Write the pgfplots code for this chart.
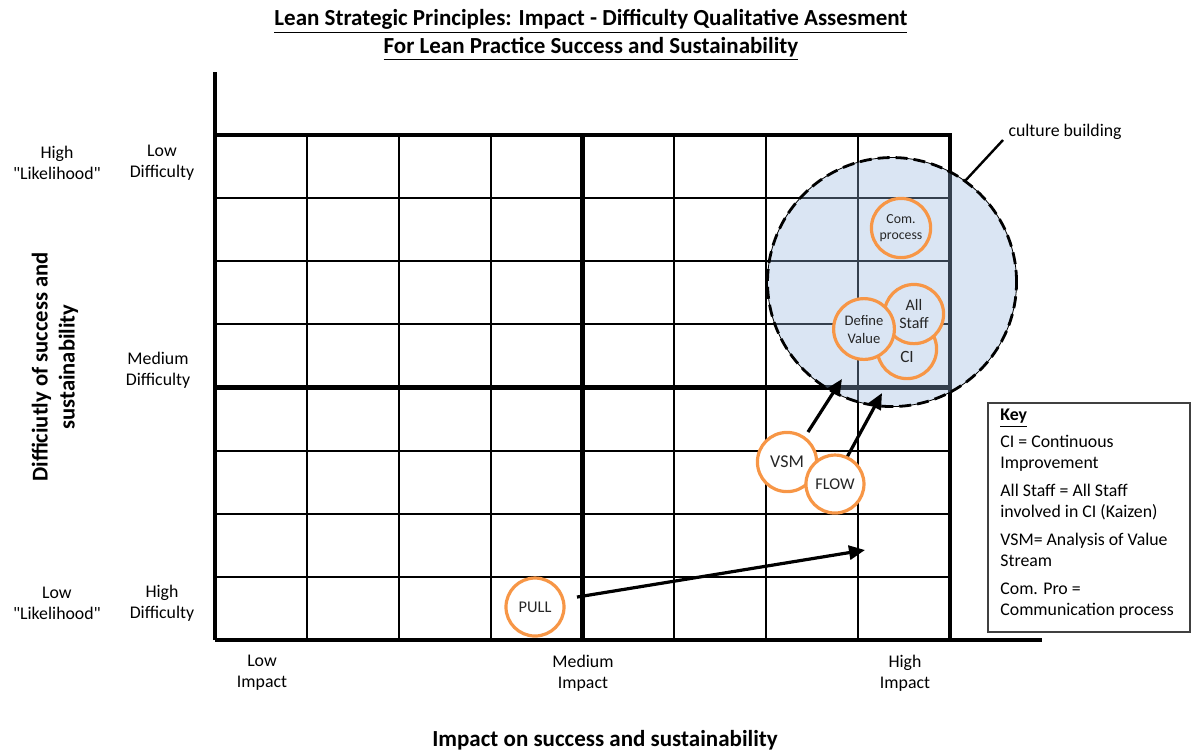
\documentclass[border=0pt]{standalone}
\usepackage{fontspec}
\setmainfont{Carlito}[Ligatures=TeXOff]
\usepackage{pgfplots}
\pgfplotsset{compat=1.18}
\usetikzlibrary{arrows.meta}
\definecolor{orng}{HTML}{F79646}
\definecolor{cult}{RGB}{218,229,243}
\definecolor{cultT}{RGB}{149,181,221}
\newcommand\lbl{\fontsize{8.9}{10.5}\selectfont}
\begin{document}
\begin{tikzpicture}
\begin{axis}[
  x=45.9375pt, y=31.5625pt,
  xmin=0, xmax=9, ymin=0, ymax=9,
  axis x line=bottom, axis y line=left,
  axis line style={line width=2.2pt,-},
  ticks=none,
  clip=false,
  clip marker paths=true,
]
% thin grid lines
\addplot[line width=1pt, unbounded coords=jump] coordinates {
 (0,1) (8,1) (nan,nan) (0,2) (8,2) (nan,nan) (0,3) (8,3) (nan,nan)
 (0,5) (8,5) (nan,nan) (0,6) (8,6) (nan,nan) (0,7) (8,7) (nan,nan)
 (1,0) (1,8) (nan,nan) (2,0) (2,8) (nan,nan) (3,0) (3,8) (nan,nan)
 (5,0) (5,8) (nan,nan) (6,0) (6,8) (nan,nan) (7,0) (7,8)};
% thick grid lines
\addplot[line width=2.2pt, unbounded coords=jump] coordinates {
 (0,4) (8,4) (nan,nan) (-0.02,8) (8,8) (nan,nan) (4,0) (4,8) (nan,nan) (8,0) (8,8.03)};
% culture building area (translucent fill)
\addplot[only marks, mark=*, mark size=62.25pt, mark options={fill=cultT, fill opacity=0.35, draw=none}] coordinates {(7.369,5.671)};
% culture building outline
\addplot[only marks, mark=o, mark size=62.25pt, mark options={draw=black, line width=1.4pt, dash pattern=on 6pt off 3pt}] coordinates {(7.369,5.671)};
% pointer to culture label
\addplot[line width=1.2pt] coordinates {(8.163,7.271) (8.577,7.921)};
% arrows
\addplot[line width=1.6pt, -{Triangle[length=8pt,width=7pt]}] coordinates {(6.454,3.295) (6.824,4.135)};
\addplot[line width=1.6pt, -{Triangle[length=8pt,width=7pt]}] coordinates {(6.803,2.693) (7.260,3.913)};
\addplot[line width=1.6pt, -{Triangle[length=8pt,width=7pt]}] coordinates {(3.940,0.681) (7.075,1.426)};
% practice circles
\addplot[only marks, mark=*, mark size=14.8pt, mark options={fill=cult, draw=orng, line width=1.6pt}] coordinates {(7.467,6.527)};
\addplot[only marks, mark=*, mark size=14.8pt, mark options={fill=cult, draw=orng, line width=1.6pt}] coordinates {(7.532,4.610)};
\addplot[only marks, mark=*, mark size=14.8pt, mark options={fill=cult, draw=orng, line width=1.6pt}] coordinates {(7.608,5.164)};
\addplot[only marks, mark=*, mark size=15.2pt, mark options={fill=cult, draw=orng, line width=1.6pt}] coordinates {(7.064,4.927)};
\addplot[only marks, mark=*, mark size=14.8pt, mark options={fill=white, draw=orng, line width=1.6pt}] coordinates {(6.226,2.820)};
\addplot[only marks, mark=*, mark size=14.5pt, mark options={fill=white, draw=orng, line width=1.6pt}] coordinates {(6.748,2.471)};
\addplot[only marks, mark=*, mark size=14.5pt, mark options={fill=white, draw=orng, line width=1.6pt}] coordinates {(3.483,0.523)};
% circle text anchors
\coordinate (tCom) at (axis cs:7.467,6.527);
\coordinate (tCI) at (axis cs:7.532,4.48);
\coordinate (tAll) at (axis cs:7.608,5.164);
\coordinate (tDef) at (axis cs:7.064,4.927);
\coordinate (tVSM) at (axis cs:6.226,2.820);
\coordinate (tFlow) at (axis cs:6.748,2.471);
\coordinate (tPull) at (axis cs:3.483,0.523);
% culture label
\node[anchor=west, font=\lbl] at (axis cs:8.56,8.05) {culture building};
% key
\draw[line width=0.6pt, black!75] (axis cs:8.414,3.754) rectangle (axis cs:10.612,0.127);
\node[anchor=north west, align=left, font=\lbl, inner sep=0pt] at (axis cs:8.544,3.66) {%
 \textbf{\underline{Key}}\\[2.6pt]
 CI = Continuous\\
 Improvement\\[3.6pt]
 All Staff = All Staff\\
 involved in CI (Kaizen)\\[3.6pt]
 VSM= Analysis of Value\\
 Stream\\[3.6pt]
 Com. Pro =\\
 Communication process};
% side labels
\node[align=center, font=\lbl] at (axis cs:-1.720,7.557) {High\\"Likelihood"};
\node[align=center, font=\lbl] at (axis cs:-0.577,7.557) {Low\\Difficulty};
\node[align=center, font=\lbl] at (axis cs:-0.620,4.277) {Medium\\Difficulty};
\node[align=center, font=\lbl] at (axis cs:-1.720,0.586) {Low\\"Likelihood"};
\node[align=center, font=\lbl] at (axis cs:-0.577,0.586) {High\\Difficulty};
\node[align=center, font=\lbl] at (axis cs:0.512,-0.523) {Low\\Impact};
\node[align=center, font=\lbl] at (axis cs:4.005,-0.523) {Medium\\Impact};
\node[align=center, font=\lbl] at (axis cs:7.510,-0.523) {High\\Impact};
% axis titles
\node[font=\bfseries\fontsize{11.5}{13}\selectfont] at (axis cs:4.245,-1.584) {Impact on success and sustainability};
\node[rotate=90, align=center, font=\bfseries\fontsize{11.3}{13.5}\selectfont] at (axis cs:-1.741,4.325) {Difficiutly of success and\\sustainability};
\node[align=center, font=\bfseries\fontsize{11.5}{14}\selectfont] at (axis cs:4.092,9.585) {\underline{Lean Strategic Principles: Impact - Difficulty Qualitative Assesment}\\\underline{For Lean Practice Success and Sustainability}};
\coordinate (BL) at (axis cs:-2.340,-1.790);
\coordinate (TR) at (axis cs:10.634,10.139);
\end{axis}
\node[align=center, font=\fontsize{6.9}{8.3}\selectfont, text=black!85] at (tCom) {Com.\\process};
\node[font=\fontsize{8.6}{10}\selectfont, text=black!85] at (tCI) {CI};
\node[align=center, font=\fontsize{8}{9}\selectfont, text=black!85] at (tAll) {All\\Staff};
\node[align=center, font=\fontsize{7.3}{9}\selectfont, text=black!85] at (tDef) {Define\\Value};
\node[font=\fontsize{9}{10}\selectfont, text=black!85] at (tVSM) {VSM};
\node[font=\fontsize{8.2}{10}\selectfont, text=black!85] at (tFlow) {FLOW};
\node[font=\fontsize{8.2}{10}\selectfont, text=black!85] at (tPull) {PULL};
\pgfresetboundingbox
\useasboundingbox (BL) rectangle (TR);
\end{tikzpicture}
\end{document}
